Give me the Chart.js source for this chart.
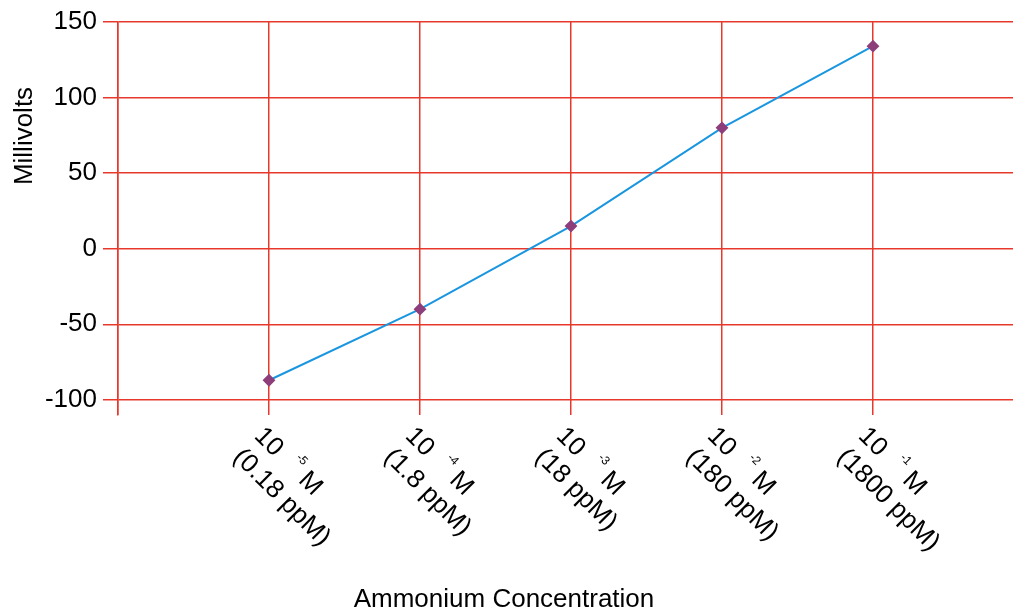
<!DOCTYPE html>
<html>
<head>
<meta charset="utf-8">
<script src="https://cdn.jsdelivr.net/npm/chart.js@4/dist/chart.umd.min.js"></script>
<style>
  html, body { margin: 0; padding: 0; background: #fff; overflow: hidden; }
  canvas { display: block; }
</style>
</head>
<body>
<canvas id="chart" width="1013" height="610"></canvas>
<script>
// data
const exponents = ['-5', '-4', '-3', '-2', '-1'];
const ppmLabels = ['(0.18 ppM)', '(1.8 ppM)', '(18 ppM)', '(180 ppM)', '(1800 ppM)'];
const millivolts = [-87, -40, 15, 80, 134];
const yTicks = [-100, -50, 0, 50, 100, 150];

const FONT = '"Liberation Sans", Arial, sans-serif';
const gridRed = '#e8382c';

// x labels are rotated clockwise with a superscript, so draw them by hand
const concLabels = {
  id: 'concLabels',
  afterDraw(chart) {
    const ctx = chart.ctx;
    const xs = chart.scales.x;
    const ang = 45 * Math.PI / 180;
    ctx.save();
    ctx.fillStyle = '#000';
    ctx.textBaseline = 'alphabetic';
    ctx.textAlign = 'left';
    exponents.forEach((e, i) => {
      const px = xs.getPixelForValue(i + 1);
      ctx.save();
      ctx.translate(px - 3, 420);
      ctx.rotate(ang);
      ctx.font = '26px ' + FONT;
      ctx.fillText('10', 3, 21);
      let x = 3 + ctx.measureText('10').width + 16;
      ctx.font = '12px ' + FONT;
      ctx.fillText(e, x, 6);
      x += ctx.measureText(e).width + 7;
      ctx.font = '26px ' + FONT;
      ctx.fillText('M', x, 21);
      ctx.fillText(ppmLabels[i], 3, 51);
      ctx.restore();
    });
    // axis titles
    ctx.font = '26px ' + FONT;
    ctx.textAlign = 'center';
    ctx.fillText('Ammonium Concentration', 504, 607);
    ctx.translate(32, 136);
    ctx.rotate(-Math.PI / 2);
    ctx.fillText('Millivolts', 0, 0);
    ctx.restore();
  }
};

const points = millivolts.map((v, i) => ({ x: i + 1, y: v }));

new Chart(document.getElementById('chart'), {
  type: 'line',
  data: {
    datasets: [{
      data: points,
      borderColor: '#1a96e0',
      borderWidth: 2,
      pointStyle: 'rectRot',
      pointRadius: 5,
      pointHoverRadius: 5,
      pointBackgroundColor: '#8e3e7a',
      pointBorderColor: '#8e3e7a',
      tension: 0
    }]
  },
  options: {
    responsive: false,
    animation: false,
    layout: { autoPadding: false, padding: { top: 22, right: 0, left: 0, bottom: 0 } },
    plugins: { legend: { display: false }, tooltip: { enabled: false } },
    scales: {
      x: {
        type: 'linear',
        min: 0,
        max: (1013 - 118) / 151,
        afterBuildTicks: s => { s.ticks = [0, 1, 2, 3, 4, 5].map(v => ({ value: v })); },
        afterFit: s => { s.height = 195; s.paddingLeft = 0; s.paddingRight = 0; },
        ticks: { display: false },
        grid: { color: gridRed, lineWidth: 1.5, tickLength: 0, drawTicks: false },
        border: { display: false }
      },
      y: {
        min: -110,
        max: 150,
        afterBuildTicks: s => { s.ticks = yTicks.map(v => ({ value: v })); },
        afterFit: s => { s.width = 118; s.paddingTop = 0; s.paddingBottom = 0; },
        ticks: { color: '#000', font: { family: FONT, size: 26 }, padding: 6 },
        grid: { color: gridRed, lineWidth: 1.5, tickLength: 15 },
        border: { display: true, color: gridRed, width: 1.5 }
      }
    }
  },
  plugins: [concLabels]
});
</script>
</body>
</html>
